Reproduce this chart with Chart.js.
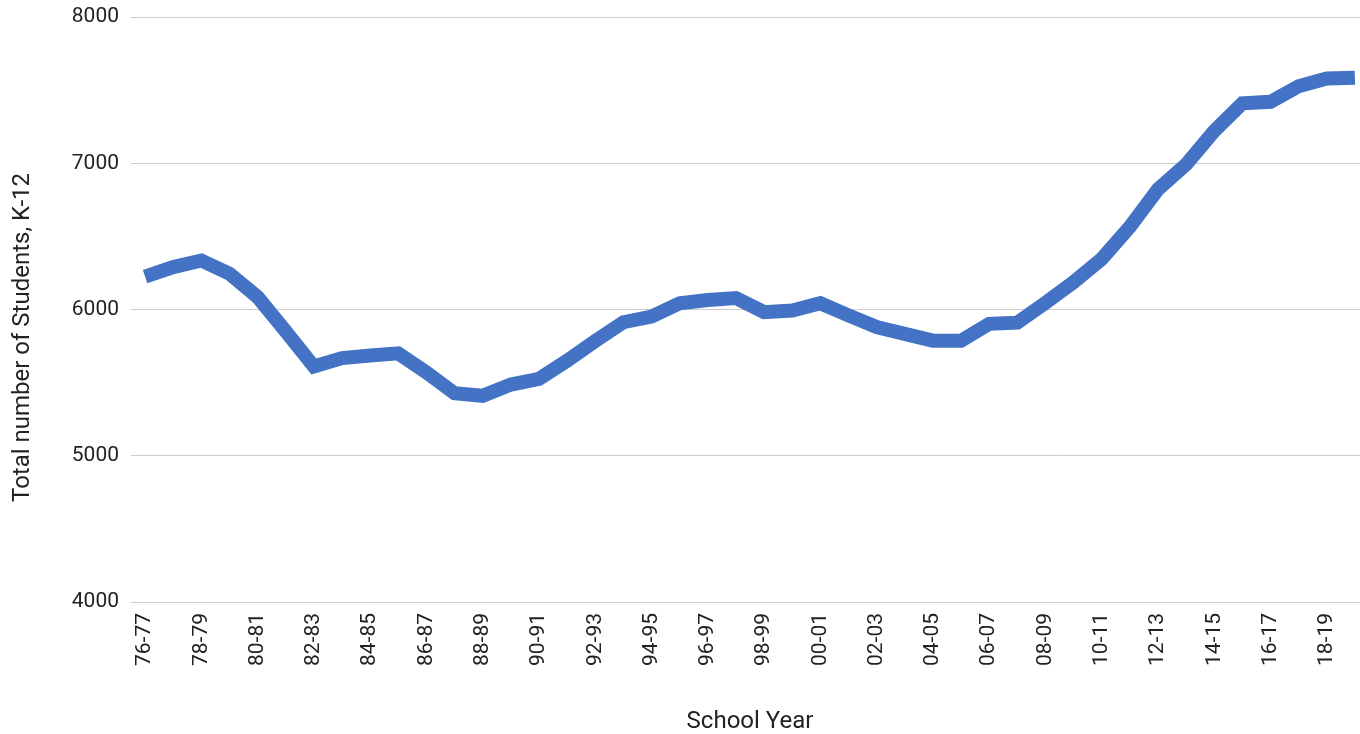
<!DOCTYPE html>
<html>
<head>
<meta charset="utf-8">
<title>K-12 enrollment by school year</title>
<script src="https://cdn.jsdelivr.net/npm/chart.js@4/dist/chart.umd.min.js"></script>
<style>
  html, body { margin: 0; padding: 0; background: #ffffff; overflow: hidden; }
  #wrap { width: 1360px; height: 734px; overflow: hidden; }
  canvas { display: block; }
</style>
</head>
<body>
<div id="wrap"><canvas id="chart" width="1369" height="734"></canvas></div>
<script>
// School years, 1976-77 through 2019-20
const schoolYears = [
  '76-77', '77-78', '78-79', '79-80', '80-81', '81-82', '82-83', '83-84', '84-85', '85-86',
  '86-87', '87-88', '88-89', '89-90', '90-91', '91-92', '92-93', '93-94', '94-95', '95-96',
  '96-97', '97-98', '98-99', '99-00', '00-01', '01-02', '02-03', '03-04', '04-05', '05-06',
  '06-07', '07-08', '08-09', '09-10', '10-11', '11-12', '12-13', '13-14', '14-15', '15-16',
  '16-17', '17-18', '18-19', '19-20'
];

// Total number of K-12 students per school year
const totalStudents = [
  6225, 6290, 6335, 6245, 6085, 5850, 5610, 5668, 5685, 5700,
  5570, 5427, 5410, 5487, 5525, 5650, 5785, 5913, 5952, 6043,
  6065, 6078, 5982, 5993, 6043, 5960, 5880, 5833, 5787, 5787,
  5902, 5910, 6045, 6187, 6346, 6565, 6822, 6992, 7220, 7410,
  7420, 7527, 7579, 7585
];

// Value axis range and tick spacing
const yMin = 4000;
const yMax = 8000;
const yStep = 1000;

const yTitleText = 'Total number of Students, K-12';
const FONT = 'Roboto, "Noto Sans", Arial, sans-serif';

// Vertical value-axis title, set a little below the middle of the plot area
const yTitlePlugin = {
  id: 'yTitle',
  afterDraw(chart) {
    const { ctx, chartArea } = chart;
    const cy = (chartArea.top + chartArea.bottom) / 2 + 28;
    ctx.save();
    ctx.translate(23, cy);
    ctx.rotate(-Math.PI / 2);
    ctx.font = '24px ' + FONT;
    ctx.fillStyle = '#222222';
    ctx.textAlign = 'center';
    ctx.textBaseline = 'middle';
    ctx.fillText(yTitleText, 0, 0);
    ctx.restore();
  }
};

new Chart(document.getElementById('chart'), {
  type: 'line',
  data: {
    labels: schoolYears,
    datasets: [{
      data: totalStudents,
      borderColor: '#4472c4',
      backgroundColor: '#4472c4',
      borderWidth: 14,
      pointRadius: 0,
      pointHoverRadius: 0,
      tension: 0,
      fill: false,
      borderJoinStyle: 'miter',
      borderCapStyle: 'butt'
    }]
  },
  plugins: [yTitlePlugin],
  options: {
    responsive: false,
    animation: false,
    events: [],
    layout: { padding: { top: 17, right: 0, bottom: 0, left: 0 } },
    plugins: {
      legend: { display: false },
      tooltip: { enabled: false },
      title: { display: false }
    },
    scales: {
      x: {
        type: 'category',
        offset: true,
        grid: { display: false, drawTicks: false },
        border: { display: false },
        ticks: {
          autoSkip: false,
          maxRotation: 90,
          minRotation: 90,
          padding: 11,
          color: '#222222',
          font: { family: FONT, size: 21 },
          // every other school year is labelled
          callback: function (value, index) {
            return index % 2 === 0 ? this.getLabelForValue(value) : '';
          }
        },
        title: {
          display: true,
          text: 'School Year',
          color: '#222222',
          font: { family: FONT, size: 24, lineHeight: 1 },
          padding: { top: 0, bottom: 0 }
        },
        afterFit: function (scale) {
          scale.height = 132;
          scale.paddingLeft = 0;
          scale.paddingRight = 0;
        }
      },
      y: {
        min: yMin,
        max: yMax,
        grid: { color: '#cccccc', lineWidth: 1, drawTicks: false },
        border: { display: false },
        ticks: {
          stepSize: yStep,
          padding: 12,
          color: '#222222',
          font: { family: FONT, size: 21 },
          callback: function (value) { return String(value); }
        },
        title: { display: false },
        afterFit: function (scale) {
          scale.width = 131;
          scale.paddingTop = 0;
          scale.paddingBottom = 0;
        }
      }
    }
  }
});
</script>
</body>
</html>
